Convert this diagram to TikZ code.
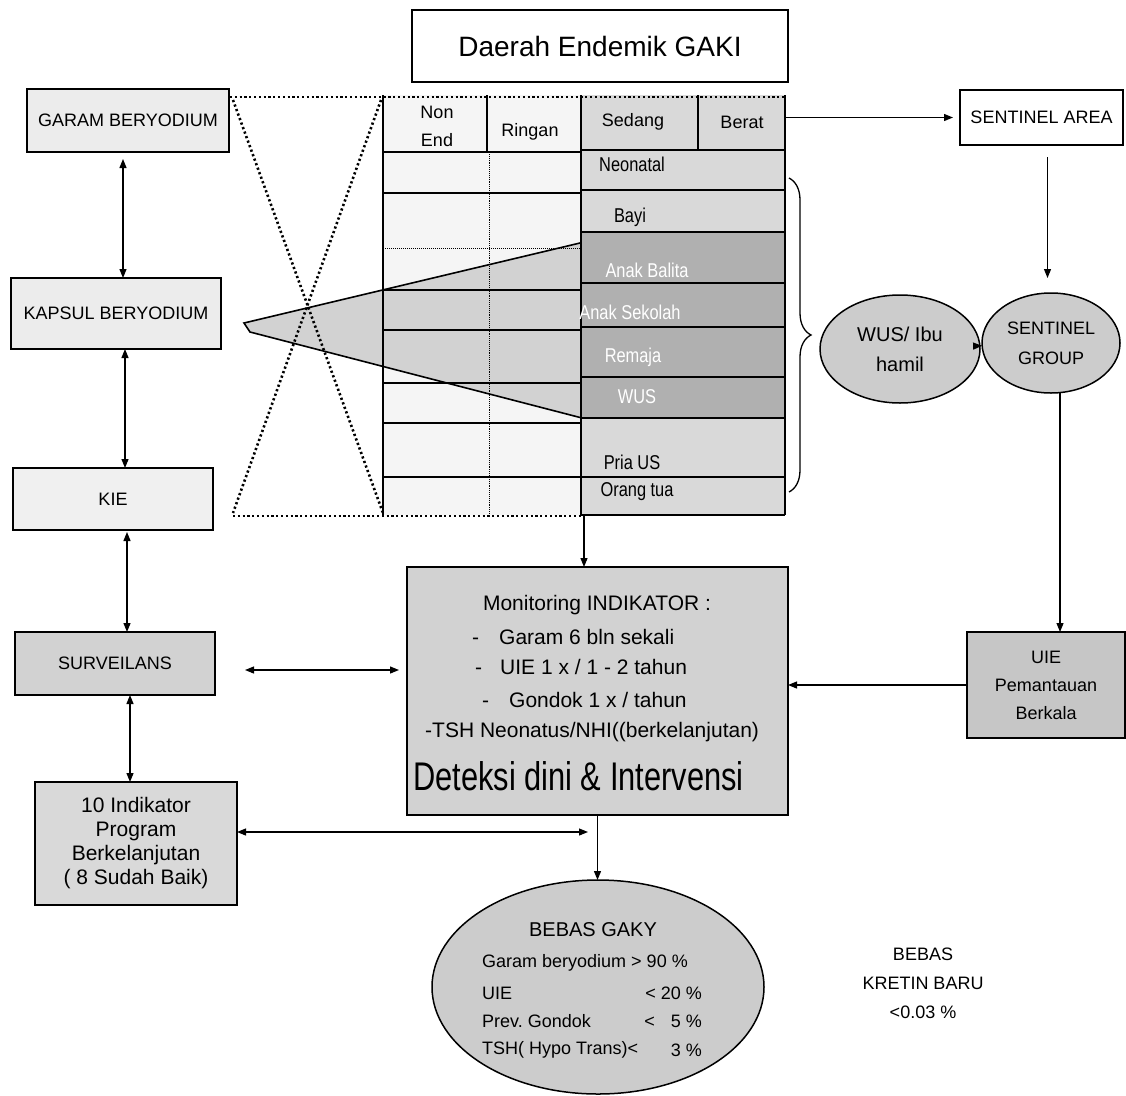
\documentclass[tikz,border=0pt]{standalone}
\usepackage{fontspec}
\setmainfont{Liberation Sans}
\newfontfamily\narrowfont[FakeStretch=0.82]{Liberation Sans}
\newfontfamily\detfont[FakeStretch=0.77]{Liberation Sans}
\usetikzlibrary{arrows.meta,shapes.geometric,decorations.pathreplacing}
\tikzset{
  boxs/.style={draw=black, line width=1.5pt, inner sep=2pt, outer sep=0pt, align=center, font=\fontsize{18}{22}\selectfont},
  ell/.style={ellipse, draw=black, line width=1.5pt, fill=gray!40, inner sep=0pt, outer sep=0pt, align=center},
  arr/.style={line width=1.2pt, -{Triangle[length=9pt,width=7pt]}},
  dbl/.style={line width=1.2pt, {Triangle[length=9pt,width=7pt]}-{Triangle[length=9pt,width=7pt]}},
  dotln/.style={line width=2.6pt, dash pattern=on 2.2pt off 2.6pt},
  tline/.style={line width=1.3pt},
  tlab/.style={font=\narrowfont\fontsize{20}{22}\selectfont, inner sep=0pt},
  wlab/.style={font=\narrowfont\fontsize{20}{22}\selectfont, inner sep=0pt, text=white},
  hlab/.style={font=\fontsize{18}{28}\selectfont, inner sep=0pt, align=center},
  mtxt/.style={font=\fontsize{21}{24}\selectfont, inner sep=0pt},
  btxt/.style={font=\fontsize{18}{22}\selectfont, inner sep=0pt},
}
\begin{document}
\begin{tikzpicture}[x=1pt,y=-1pt]
\useasboundingbox (0,0) rectangle (1126,1095);
\fill[white] (0,0) rectangle (1126,1095);

% ---------- table fills ----------
\fill[gray!8] (383,95) rectangle (581,515);
\fill[gray!30] (581,95) rectangle (785,515);
\fill[gray!62] (581,232) rectangle (785,418);
% wedge
\fill[gray!35] (244,323) -- (580,243) -- (582,418) -- (250,332) -- cycle;

% table node (frame reference)
\node[minimum width=402pt, minimum height=420pt, inner sep=0pt, outer sep=0pt] (tbl) at (584,305) {};

% table lines
\draw[tline] (383,95) -- (383,515);
\draw[tline] (785,95) -- (785,515);
\draw[tline] (581,95) -- (581,515);
\draw[tline] (487,95) -- (487,152);
\draw[line width=0.9pt, densely dotted] (489,152) -- (489,515);
\draw[tline] (698,95) -- (698,150);
\foreach \yy in {152,193,290,330,383,423,477} \draw[tline] (383,\yy) -- (581,\yy);
\draw[line width=1pt, densely dotted] (383,248) -- (581,248);
\foreach \yy in {150,190,232,283,327,377,418,477} \draw[tline] (581,\yy) -- (785,\yy);
\draw[tline] (581,515) -- (785,515);
% wedge edges
\draw[line width=1.6pt] (580,243) -- (244,323) -- (250,332) -- (582,418);

% dotted hourglass
\draw[dotln] (230,97) -- (785,97);
\draw[dotln] (233,516) -- (581,516);
\draw[dotln] (233,100) -- (383,513);
\draw[dotln] (381,100) -- (233,513);

% table labels
\node[hlab] (tNon) at (437,126) {Non\\End};
\node[hlab] (tRin) at (530,132) {Ringan};
\node[hlab] (tSed) at (633,122) {Sedang};
\node[hlab] (tBer) at (742,122) {Berat};
\node[tlab] (tNeo) at (632,164) {Neonatal};
\node[tlab] (tBay) at (630,217) {Bayi};
\node[wlab] (tBal) at (647,270) {Anak Balita};
\node[wlab] (tSek) at (630,312) {Anak Sekolah};
\node[wlab] (tRem) at (633,357) {Remaja};
\node[wlab] (tWus) at (637,397) {WUS};
\node[tlab] (tPri) at (632,462) {Pria US};
\node[tlab] (tOra) at (637,492) {Orang tua};

% brace
\draw[line width=1.3pt, decorate, decoration={brace, amplitude=22pt, aspect=0.5}] (789,178) -- (789,492);

% ---------- boxes ----------
\node[boxs, fill=white, minimum width=376pt, minimum height=72pt, font=\fontsize{28}{30}\selectfont] (title) at (600,46) {Daerah Endemik GAKI};
\node[boxs, fill=gray!15, minimum width=202pt, minimum height=63pt] (garam) at (128,120.5) {GARAM BERYODIUM};
\node[boxs, fill=gray!15, minimum width=210pt, minimum height=71pt] (kapsul) at (116,313.5) {KAPSUL BERYODIUM};
\node[boxs, fill=gray!12, minimum width=200pt, minimum height=62pt] (kie) at (113,499) {KIE};
\node[boxs, fill=gray!35, minimum width=200pt, minimum height=63pt] (surv) at (115,663.5) {SURVEILANS};
\node[boxs, fill=gray!30, minimum width=202pt, minimum height=123pt, font=\fontsize{21}{24}\selectfont] (ind10) at (136,843.5) {10 Indikator\\Program\\Berkelanjutan\\( 8 Sudah Baik)};
\node[boxs, fill=gray!35, minimum width=381pt, minimum height=248pt] (mon) at (597.5,691) {};
\node[boxs, fill=white, minimum width=163pt, minimum height=55pt] (sentA) at (1041.5,117.5) {SENTINEL AREA};
\node[ell, minimum width=160pt, minimum height=108pt, font=\fontsize{20}{30}\selectfont] (wus) at (900,349) {WUS/ Ibu\\hamil};
\node[ell, minimum width=138pt, minimum height=100pt, font=\fontsize{18}{30}\selectfont] (sg) at (1051,343) {SENTINEL\\GROUP};
\node[boxs, fill=gray!45, minimum width=158pt, minimum height=106pt, font=\fontsize{18}{28}\selectfont] (uie) at (1046,685) {UIE\\Pemantauan\\Berkala};
\node[ell, minimum width=332pt, minimum height=214pt] (bebas) at (598,987) {};

% monitoring text
\node[mtxt] (m1) at (597,605) {Monitoring INDIKATOR :};
\node[mtxt, anchor=west] (m2) at (472,637) {-\hspace{20pt}Garam 6 bln sekali};
\node[mtxt, anchor=west] (m3) at (475,667) {-\hspace{18pt}UIE 1 x / 1 - 2 tahun};
\node[mtxt, anchor=west] (m4) at (482,700) {-\hspace{20pt}Gondok 1 x / tahun};
\node[mtxt, anchor=west] (m5) at (425,732) {-TSH Neonatus/NHI((berkelanjutan)};
\node[inner sep=0pt, anchor=west, font=\detfont\fontsize{40}{44}\selectfont] (m6) at (413,776) {Deteksi dini \& Intervensi};

% bebas gaky text
\node[inner sep=0pt, font=\fontsize{20}{22}\selectfont] (bt) at (593,930) {BEBAS GAKY};
\node[btxt, anchor=west] (b1) at (482,963) {Garam beryodium > 90 \%};
\node[btxt, anchor=west] (b2l) at (482,993) {UIE};
\node[btxt, anchor=east] (b2r) at (702,993) {< 20 \%};
\node[btxt, anchor=west] (b3l) at (482,1021) {Prev.\ Gondok};
\node[btxt, anchor=east] (b3r) at (702,1021) {<\hspace{16pt}5 \%};
\node[btxt, anchor=west] (b4l) at (482,1050) {TSH( Hypo Trans)<};
\node[btxt, anchor=east] (b4r) at (702,1050) {3 \%};

% kretin text
\node[inner sep=0pt, align=center, font=\fontsize{18}{29}\selectfont] (kretin) at (923,983) {BEBAS\\KRETIN BARU\\<0.03 \%};

% ---------- connectors ----------
\draw[dbl, shorten <=7pt] ([xshift=-5pt]garam.south) -- ([xshift=-5pt]garam.south |- kapsul.north);
\draw[dbl] ([xshift=9pt]kapsul.south) -- ([xshift=9pt]kapsul.south |- kie.north);
\draw[dbl, shorten <=2pt] ([xshift=14pt]kie.south) -- ([xshift=14pt]kie.south |- surv.north);
\draw[dbl] ([xshift=15pt]surv.south) -- ([xshift=15pt]surv.south |- ind10.north);
\coordinate (survR) at (245,670);
\draw[dbl, shorten >=8pt] (survR) -- (survR -| mon.west);
\coordinate (monB) at (588,832);
\draw[dbl] (ind10.east |- monB) -- (monB);
\draw[arr] (tbl.south) -- (tbl.south |- mon.north);
\draw[arr, shorten >=7pt] (tbl.east |- sentA.west) -- (sentA.west);
\draw[arr, shorten <=12pt, shorten >=15pt] ([xshift=6pt]sentA.south) -- ([xshift=6pt]sentA.south |- sg.north);
\draw[arr] (wus) -- (sg);
\draw[arr] ([xshift=9pt]sg.south) -- ([xshift=9pt]sg.south |- uie.north);
\draw[arr] (uie.west) -- (uie.west -| mon.east);
\draw[arr] (mon.south) -- (mon.south |- bebas.north);
\end{tikzpicture}
\end{document}
